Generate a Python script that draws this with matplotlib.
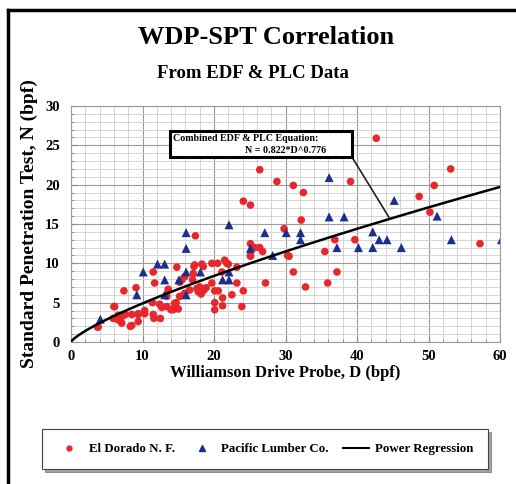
import numpy as np
import matplotlib
matplotlib.use("Agg")
import matplotlib.pyplot as plt
from matplotlib.lines import Line2D
from matplotlib.patches import Rectangle
from matplotlib.ticker import MultipleLocator

# ---------------- data ----------------
edf_D = [3.7, 3.8, 6.0, 5.9, 6.1, 6.6, 6.6, 7.1, 7.1, 7.4, 7.6, 8.3, 8.5, 8.5, 9.1, 9.4, 9.4, 9.4,
         10.3, 10.3, 11.4, 11.5, 11.5, 11.6, 11.7, 12.4, 12.5, 12.7, 13.4, 13.4, 13.6, 14.0, 14.3,
         14.5, 14.7, 14.8, 14.8, 15.0, 15.2, 15.2, 15.5, 15.9, 15.9, 16.6, 17.0, 17.1, 17.2, 17.3,
         17.4, 17.8, 18.0, 18.2, 18.5, 18.3, 18.6, 18.9, 19.7, 19.7, 20.1, 20.1, 20.1, 20.5, 20.6,
         21.1, 21.2, 21.2, 21.5, 21.8, 22.0, 22.5, 23.2, 23.2, 23.9, 24.1, 24.1, 25.1, 25.1, 25.1,
         25.1, 25.7, 26.4, 26.4, 26.8, 27.2, 28.8, 29.8, 30.3, 30.5, 31.1, 31.1, 32.2, 32.5, 32.8,
         35.5, 35.9, 36.9, 37.2, 39.1, 39.7, 42.7, 48.7, 50.2, 50.8, 53.1, 57.2, 18.2, 17.6]
edf_N = [1.9, 1.9, 4.5, 3.0, 4.5, 2.8, 3.4, 2.4, 3.2, 6.5, 3.5, 2.0, 2.1, 3.5, 6.9, 2.6, 3.5, 3.6,
         4.0, 3.6, 5.0, 8.9, 3.5, 3.0, 7.5, 4.8, 3.0, 4.4, 4.5, 5.8, 6.7, 4.1, 4.1,
         4.9, 5.0, 9.5, 4.3, 4.2, 7.6, 5.8, 7.9, 8.3, 6.2, 6.6, 7.9, 8.7, 9.6, 9.8,
         13.5, 6.4, 7.0, 6.1, 9.6, 9.9, 6.6, 6.9, 7.5, 10.0, 6.5, 4.1, 5.0, 10.0, 6.5,
         8.9, 5.6, 4.6, 10.4, 10.0, 9.9, 6.0, 9.5, 7.5, 4.5, 6.5, 17.9, 17.4, 12.5, 11.0,
         10.9, 12.0, 21.9, 12.0, 11.5, 7.5, 20.4, 14.4, 11.0, 10.9, 19.9, 8.9, 15.5, 19.0, 7.0,
         11.5, 7.5, 13.0, 8.9, 20.4, 13.0, 25.9, 18.5, 16.5, 19.9, 22.0, 12.5, 6.3, 6.8]

plc_D = [4.1, 9.2, 10.1, 12.1, 13.1, 13.1, 13.1, 15.1, 16.1, 16.1, 16.1, 16.1, 18.1, 21.2, 22.1,
         22.1, 22.1, 25.1, 27.1, 28.2, 30.1, 32.1, 32.1, 36.1, 36.1, 38.2, 37.2, 40.2, 42.2, 42.2,
         43.1, 44.2, 45.2, 46.2, 51.2, 53.2, 60.2]
plc_N = [2.9, 6.0, 8.9, 9.9, 9.9, 7.9, 6.0, 7.9, 13.9, 11.9, 8.9, 6.0, 8.9, 7.9, 7.9,
         8.9, 14.9, 11.9, 13.9, 11.0, 13.9, 13.9, 13.0, 20.9, 15.9, 15.9, 12.0, 12.0, 14.0, 12.0,
         13.0, 13.0, 18.0, 12.0, 16.0, 13.0, 13.0]

coef_a = 0.822
coef_b = 0.776

x_ticks = [0, 10, 20, 30, 40, 50, 60]
y_ticks = [0, 5, 10, 15, 20, 25, 30]

# ---------------- figure ----------------
serif = ["Liberation Serif", "DejaVu Serif"]
plt.rcParams["font.family"] = serif

fig = plt.figure(figsize=(5.16, 4.84), dpi=100)
W, H = 516, 484

# outer black border (left & top visible)
fig.add_artist(Line2D([8 / W, 8 / W], [0, 1 - 10 / H], color="black", lw=2.5,
                      transform=fig.transFigure))
fig.add_artist(Line2D([8 / W, 1], [1 - 10 / H, 1 - 10 / H], color="black", lw=2.5,
                      transform=fig.transFigure))

ax = fig.add_axes([71 / W, 1 - 342 / H, (500 - 71) / W, (342 - 106) / H])
ax.set_xlim(0, 60)
ax.set_ylim(0, 30)

ax.xaxis.set_minor_locator(MultipleLocator(2))
ax.yaxis.set_minor_locator(MultipleLocator(1))
ax.set_xticks(x_ticks)
ax.set_yticks(y_ticks)
ax.grid(True, which="major", color="#9a9a9a", lw=0.8)
ax.grid(True, which="minor", color="#cfcfcf", lw=0.6)
ax.set_axisbelow(True)
for s in ax.spines.values():
    s.set_color("#9a9a9a")
    s.set_linewidth(0.8)
ax.tick_params(which="both", direction="in", color="#888888", labelsize=10.5)
ax.tick_params(which="major", length=4)
ax.tick_params(which="minor", length=2.5)
for lab in ax.get_xticklabels() + ax.get_yticklabels():
    lab.set_fontweight("bold")
ax.tick_params(axis="x", pad=6)
ax.tick_params(axis="y", pad=8)

ax.scatter(edf_D, edf_N, s=30, color="#e8262b", edgecolors="none", zorder=3)
ax.scatter(plc_D, plc_N, s=42, marker="^", color="#1b2f8f", edgecolors="none", zorder=3)

xs = np.linspace(0, 60, 400)
ax.plot(xs, coef_a * xs ** coef_b, color="black", lw=1.8, zorder=4)

ax.set_xlabel("Williamson Drive Probe, D (bpf)", fontsize=12, fontweight="bold", labelpad=1)
ax.set_ylabel("Standard Penetration Test, N (bpf)", fontsize=14, fontweight="bold", labelpad=5)

# callout
D_hit = 44.6
ax.plot([39.3, D_hit], [23.5, coef_a * D_hit ** coef_b], color="#222222", lw=1.2, zorder=5)
ax.add_patch(Rectangle((13.9, 23.5), 39.3 - 13.9, 26.8 - 23.5, fc="white", ec="black",
                       lw=2.2, zorder=6))
ax.text(14.3, 25.85, "Combined EDF & PLC Equation:", fontsize=7.2, fontweight="bold",
        ha="left", va="center", zorder=7)
ax.text(24.3, 24.35, "N = 0.822*D^0.776", fontsize=7.2, fontweight="bold",
        ha="left", va="center", zorder=7)

# titles
fig.text(266 / W, 1 - 38 / H, "WDP-SPT Correlation", ha="center", va="center",
         fontsize=19, fontweight="bold")
fig.text(253 / W, 1 - 74 / H, "From EDF & PLC Data", ha="center", va="center",
         fontsize=13.5, fontweight="bold")

# legend
handles = [
    Line2D([], [], ls="none", marker="o", color="#e8262b", markersize=3.5),
    Line2D([], [], ls="none", marker="^", color="#1b2f8f", markersize=4),
    Line2D([], [], color="black", lw=1.5),
]
leg = fig.legend(handles, ["El Dorado N. F.", "Pacific Lumber Co.", "Power Regression"],
                 loc="center", bbox_to_anchor=(265 / W, 1 - 449 / H), ncol=3,
                 frameon=True, fancybox=False, shadow=True, edgecolor="#444444",
                 prop=dict(family=serif, weight="bold", size=9.3),
                 handlelength=2.0, columnspacing=1.1, borderpad=1.1, handletextpad=0.5)
leg.get_frame().set_linewidth(0.8)

fig.savefig("out.png", dpi=100)
